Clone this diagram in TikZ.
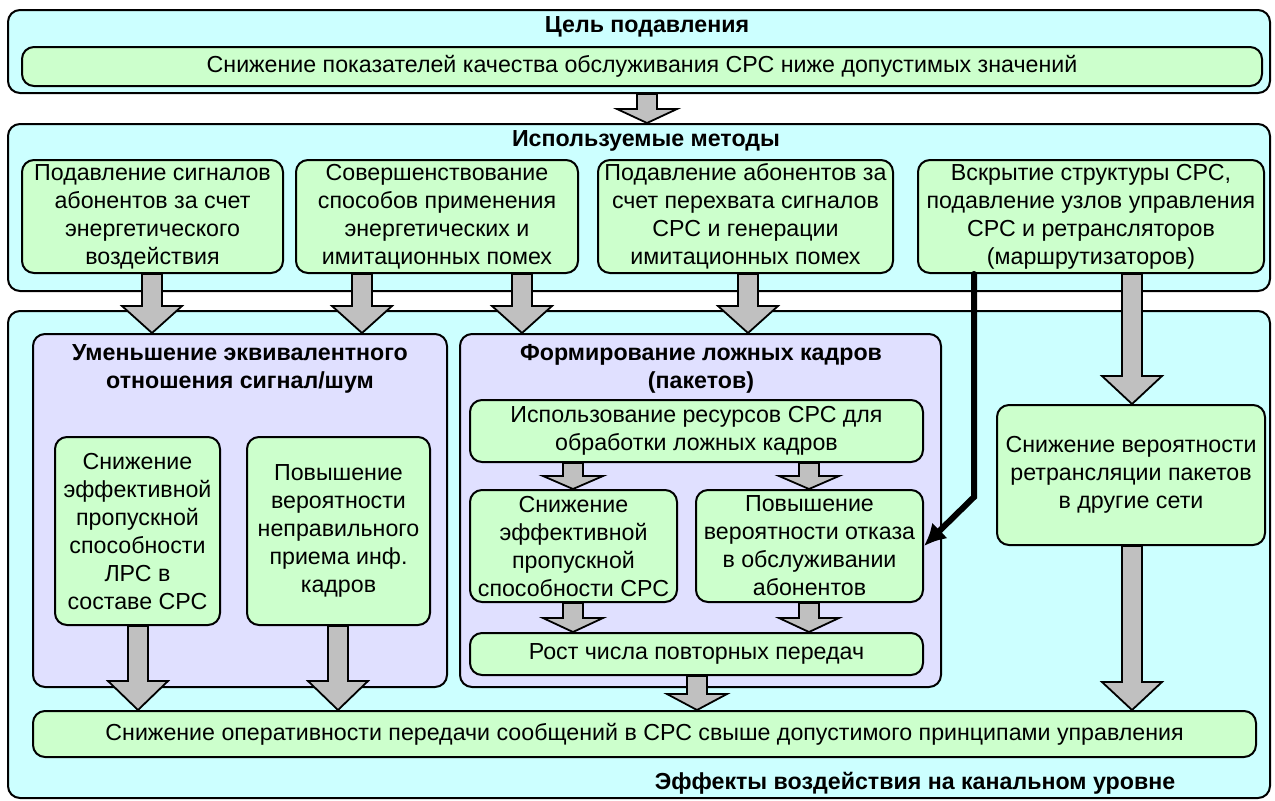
\documentclass[tikz,border=0pt]{standalone}
\usepackage{fontspec}
\setmainfont{Liberation Sans}
\usetikzlibrary{arrows.meta,calc}
\definecolor{cyanbg}{HTML}{CCFFFF}
\definecolor{greenbg}{HTML}{CCFFCC}
\definecolor{violetbg}{HTML}{E0E0FF}
\definecolor{arrowgray}{HTML}{C0C0C0}
\tikzset{
  pane/.style={draw, line width=1pt, rounded corners=6pt, fill=cyanbg, inner sep=0pt},
  group/.style={draw, line width=1pt, rounded corners=6pt, fill=violetbg, inner sep=0pt},
  item/.style={draw, line width=1pt, rounded corners=6pt, fill=greenbg, inner sep=0pt, align=center},
  heading/.style={font=\fontsize{11.6}{14}\selectfont\bfseries, align=center},
  graybody/.style={draw, line width=0.9pt, fill=arrowgray, line join=miter},
}
% gray block arrow: [head length, px]{from}{to}{x}
\newcommand{\blockarrow}[4][27]{%
  \draw[graybody] let \p1=(#2.south -| #4,0), \p2=(#3.north -| #4,0) in
    (\x1-5pt,\y1) -- (\x1+5pt,\y1) -- (\x1+5pt,\y2+#1*0.5pt) -- (\x1+15pt,\y2+#1*0.5pt)
    -- (\x2,\y2) -- (\x1-15pt,\y2+#1*0.5pt) -- (\x1-5pt,\y2+#1*0.5pt) -- cycle;}
\begin{document}
\begin{tikzpicture}[x=0.5pt, y=-0.5pt, font=\fontsize{11.6}{14}\selectfont]
  \useasboundingbox[fill=white] (0,0) rectangle (1275,800);
  % Цель подавления
  \node[pane, minimum width=631pt, minimum height=41.5pt] (goalpane) at (639,51.5) {};
  \node[heading] (goaltitle) at (647,27) {Цель подавления};
  \node[item, minimum width=620pt, minimum height=19.5pt] (goal) at (642,66.5)
    {Снижение показателей качества обслуживания СРС ниже допустимых значений};
  % Используемые методы
  \node[pane, minimum width=631pt, minimum height=83.5pt] (methpane) at (639,207.5) {};
  \node[heading] (methtitle) at (646,141) {Используемые методы};
  \node[item, minimum width=130.5pt, minimum height=56.5pt] (m1) at (152.5,216.5)
    {Подавление сигналов\\абонентов за счет\\энергетического\\воздействия};
  \node[item, minimum width=141pt, minimum height=56.5pt] (m2) at (437,216.5)
    {Совершенствование\\способов применения\\энергетических и\\имитационных помех};
  \node[item, minimum width=147.5pt, minimum height=56.5pt] (m3) at (745.5,216.5)
    {Подавление абонентов за\\счет перехвата сигналов\\СРС и генерации\\имитационных помех};
  \node[item, minimum width=173pt, minimum height=56.5pt] (m4) at (1091,216.5)
    {Вскрытие структуры СРС,\\подавление узлов управления\\СРС и ретрансляторов\\(маршрутизаторов)};
  % Эффекты воздействия
  \node[pane, minimum width=631pt, minimum height=243.5pt] (effpane) at (639,554.5) {};
  \node[heading] (efftitle) at (915,783) {Эффекты воздействия на канальном уровне};
  \node[group, minimum width=207pt, minimum height=176.5pt] (snr) at (240,510.5) {};
  \node[heading] (snrtitle) at (240,369) {Уменьшение эквивалентного\\отношения сигнал/шум};
  \node[item, minimum width=82.5pt, minimum height=94pt] (a1) at (137.5,531)
    {Снижение\\эффективной\\пропускной\\способности\\ЛРС в\\составе СРС};
  \node[item, minimum width=91.5pt, minimum height=94pt] (a2) at (338.5,531)
    {Повышение\\вероятности\\неправильного\\приема инф.\\кадров};
  \node[group, minimum width=240.5pt, minimum height=176.5pt] (fake) at (700.5,510.5) {};
  \node[heading] (faketitle) at (701,369) {Формирование ложных кадров\\(пакетов)};
  \node[item, minimum width=226.5pt, minimum height=31pt] (b0) at (696.5,431)
    {Использование ресурсов СРС для\\обработки ложных кадров};
  \node[item, minimum width=103.5pt, minimum height=56pt] (b1) at (573.5,546)
    {Снижение\\эффективной\\пропускной\\способности СРС};
  \node[item, minimum width=113.5pt, minimum height=56pt] (b2) at (809.5,546)
    {Повышение\\вероятности отказа\\в обслуживании\\абонентов};
  \node[item, minimum width=226.5pt, minimum height=21pt] (b3) at (696.5,654)
    {Рост числа повторных передач};
  \node[item, minimum width=134pt, minimum height=70pt] (relay) at (1131,475)
    {Снижение вероятности\\ретрансляции пакетов\\в другие сети};
  \node[item, minimum width=611.5pt, minimum height=23pt] (bottom) at (644.5,734)
    {Снижение оперативности передачи сообщений в СРС свыше допустимого принципами управления};
  % Стрелки
  \blockarrow[14]{goalpane}{methpane}{647}
  \blockarrow{m1}{snr}{152}
  \blockarrow{m2}{snr}{362}
  \blockarrow{m2}{fake}{522}
  \blockarrow{m3}{fake}{748}
  \blockarrow[28]{m4}{relay}{1132}
  \blockarrow[13]{b0}{b1}{573}
  \blockarrow[13]{b0}{b2}{809}
  \blockarrow[14]{b1}{b3}{573}
  \blockarrow[14]{b2}{b3}{809}
  \blockarrow[29]{a1}{bottom}{138}
  \blockarrow[29]{a2}{bottom}{338}
  \blockarrow[16]{b3}{bottom}{697}
  \blockarrow[28]{relay}{bottom}{1132}
  \draw[line width=3pt, line cap=round, -{Latex[length=11pt,width=11pt]}]
    (m4.south -| 974,0) -- (974,497) -- (b2.east);
\end{tikzpicture}
\end{document}
